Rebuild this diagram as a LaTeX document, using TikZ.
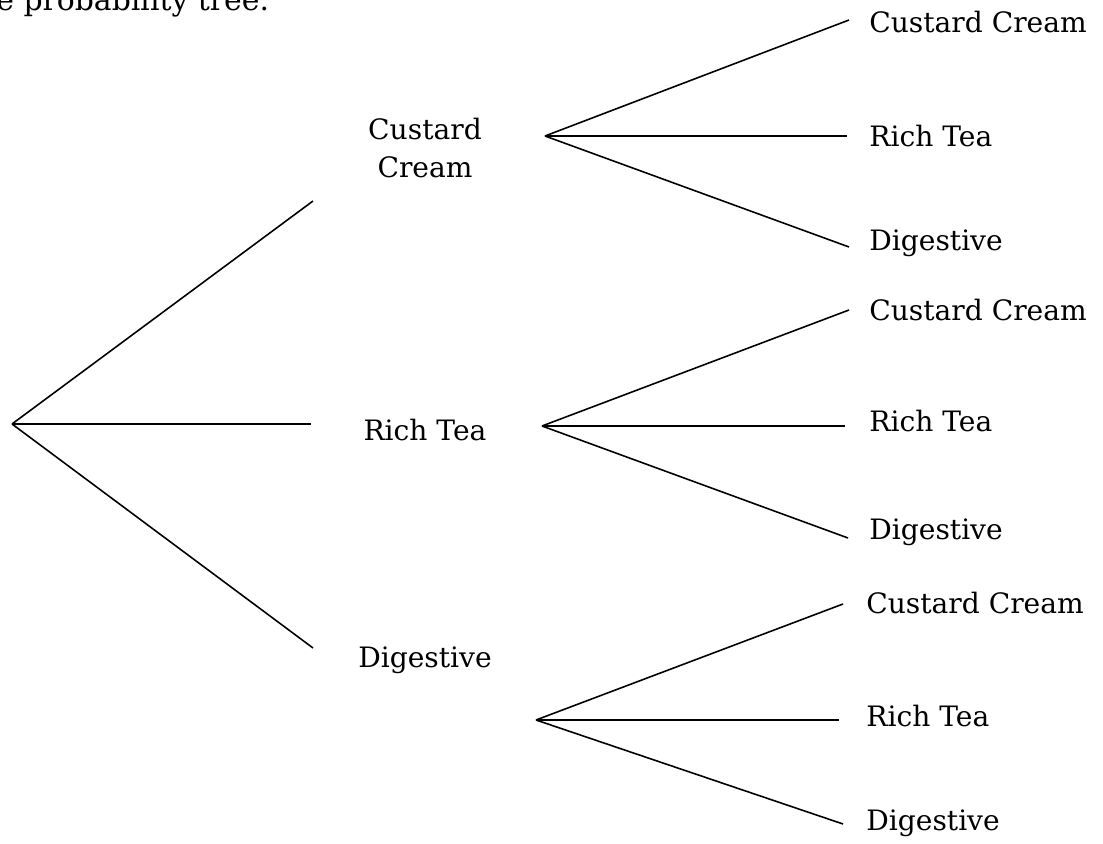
\documentclass[tikz,border=0pt]{standalone}
\usepackage{fontspec}
\setmainfont{DejaVu Serif}
\usetikzlibrary{positioning}

\begin{document}
\begin{tikzpicture}[
    x=0.02cm, y=-0.02cm,
    branch/.style={line width=0.9pt},
    every node/.style={font=\fontsize{16}{22}\selectfont, inner sep=0pt},
    choice/.style={align=center},
    outcome/.style={anchor=west}
]
    \useasboundingbox (0,0) rectangle (1103,844);
    \node[anchor=base west, font=\fontsize{17}{22}\selectfont] (caption) at (-4,11) {e probability tree.};

    % first biscuit
    \coordinate (root) at (12,424);
    \coordinate (cc-end) at (313,201);
    \coordinate (rt-end) at (311,424);
    \coordinate (dg-end) at (313,648);
    \node[choice] (cc) at (425,148) {Custard\\Cream};
    \node[choice] (rt) at (425,430) {Rich Tea};
    \node[choice] (dg) at (425,660) {Digestive};
    \draw[branch] (root) -- (cc-end);
    \draw[branch] (root) -- (rt-end);
    \draw[branch] (root) -- (dg-end);

    % second biscuit
    \coordinate (cc-fork) at (545,136);
    \coordinate (rt-fork) at (542,426);
    \coordinate (dg-fork) at (536,720);
    \coordinate (cc-cc) at (849,20);
    \coordinate (cc-rt) at (847,136);
    \coordinate (cc-dg) at (849,247);
    \coordinate (rt-cc) at (849,310);
    \coordinate (rt-rt) at (845,426);
    \coordinate (rt-dg) at (848,538);
    \coordinate (dg-cc) at (843,604);
    \coordinate (dg-rt) at (839,720);
    \coordinate (dg-dg) at (843,824);
    \foreach \a in {cc,rt,dg} {
        \foreach \b in {cc,rt,dg} {
            \draw[branch] (\a-fork) -- (\a-\b);
        }
    }
    \node[outcome] (cc-cc-label) at (869,22) {Custard Cream};
    \node[outcome] (cc-rt-label) at (869,136) {Rich Tea};
    \node[outcome] (cc-dg-label) at (869,243) {Digestive};
    \node[outcome] (rt-cc-label) at (869,310) {Custard Cream};
    \node[outcome] (rt-rt-label) at (869,421) {Rich Tea};
    \node[outcome] (rt-dg-label) at (869,532) {Digestive};
    \node[outcome] (dg-cc-label) at (866,603) {Custard Cream};
    \node[outcome] (dg-rt-label) at (866,716) {Rich Tea};
    \node[outcome] (dg-dg-label) at (866,823) {Digestive};
\end{tikzpicture}
\end{document}
